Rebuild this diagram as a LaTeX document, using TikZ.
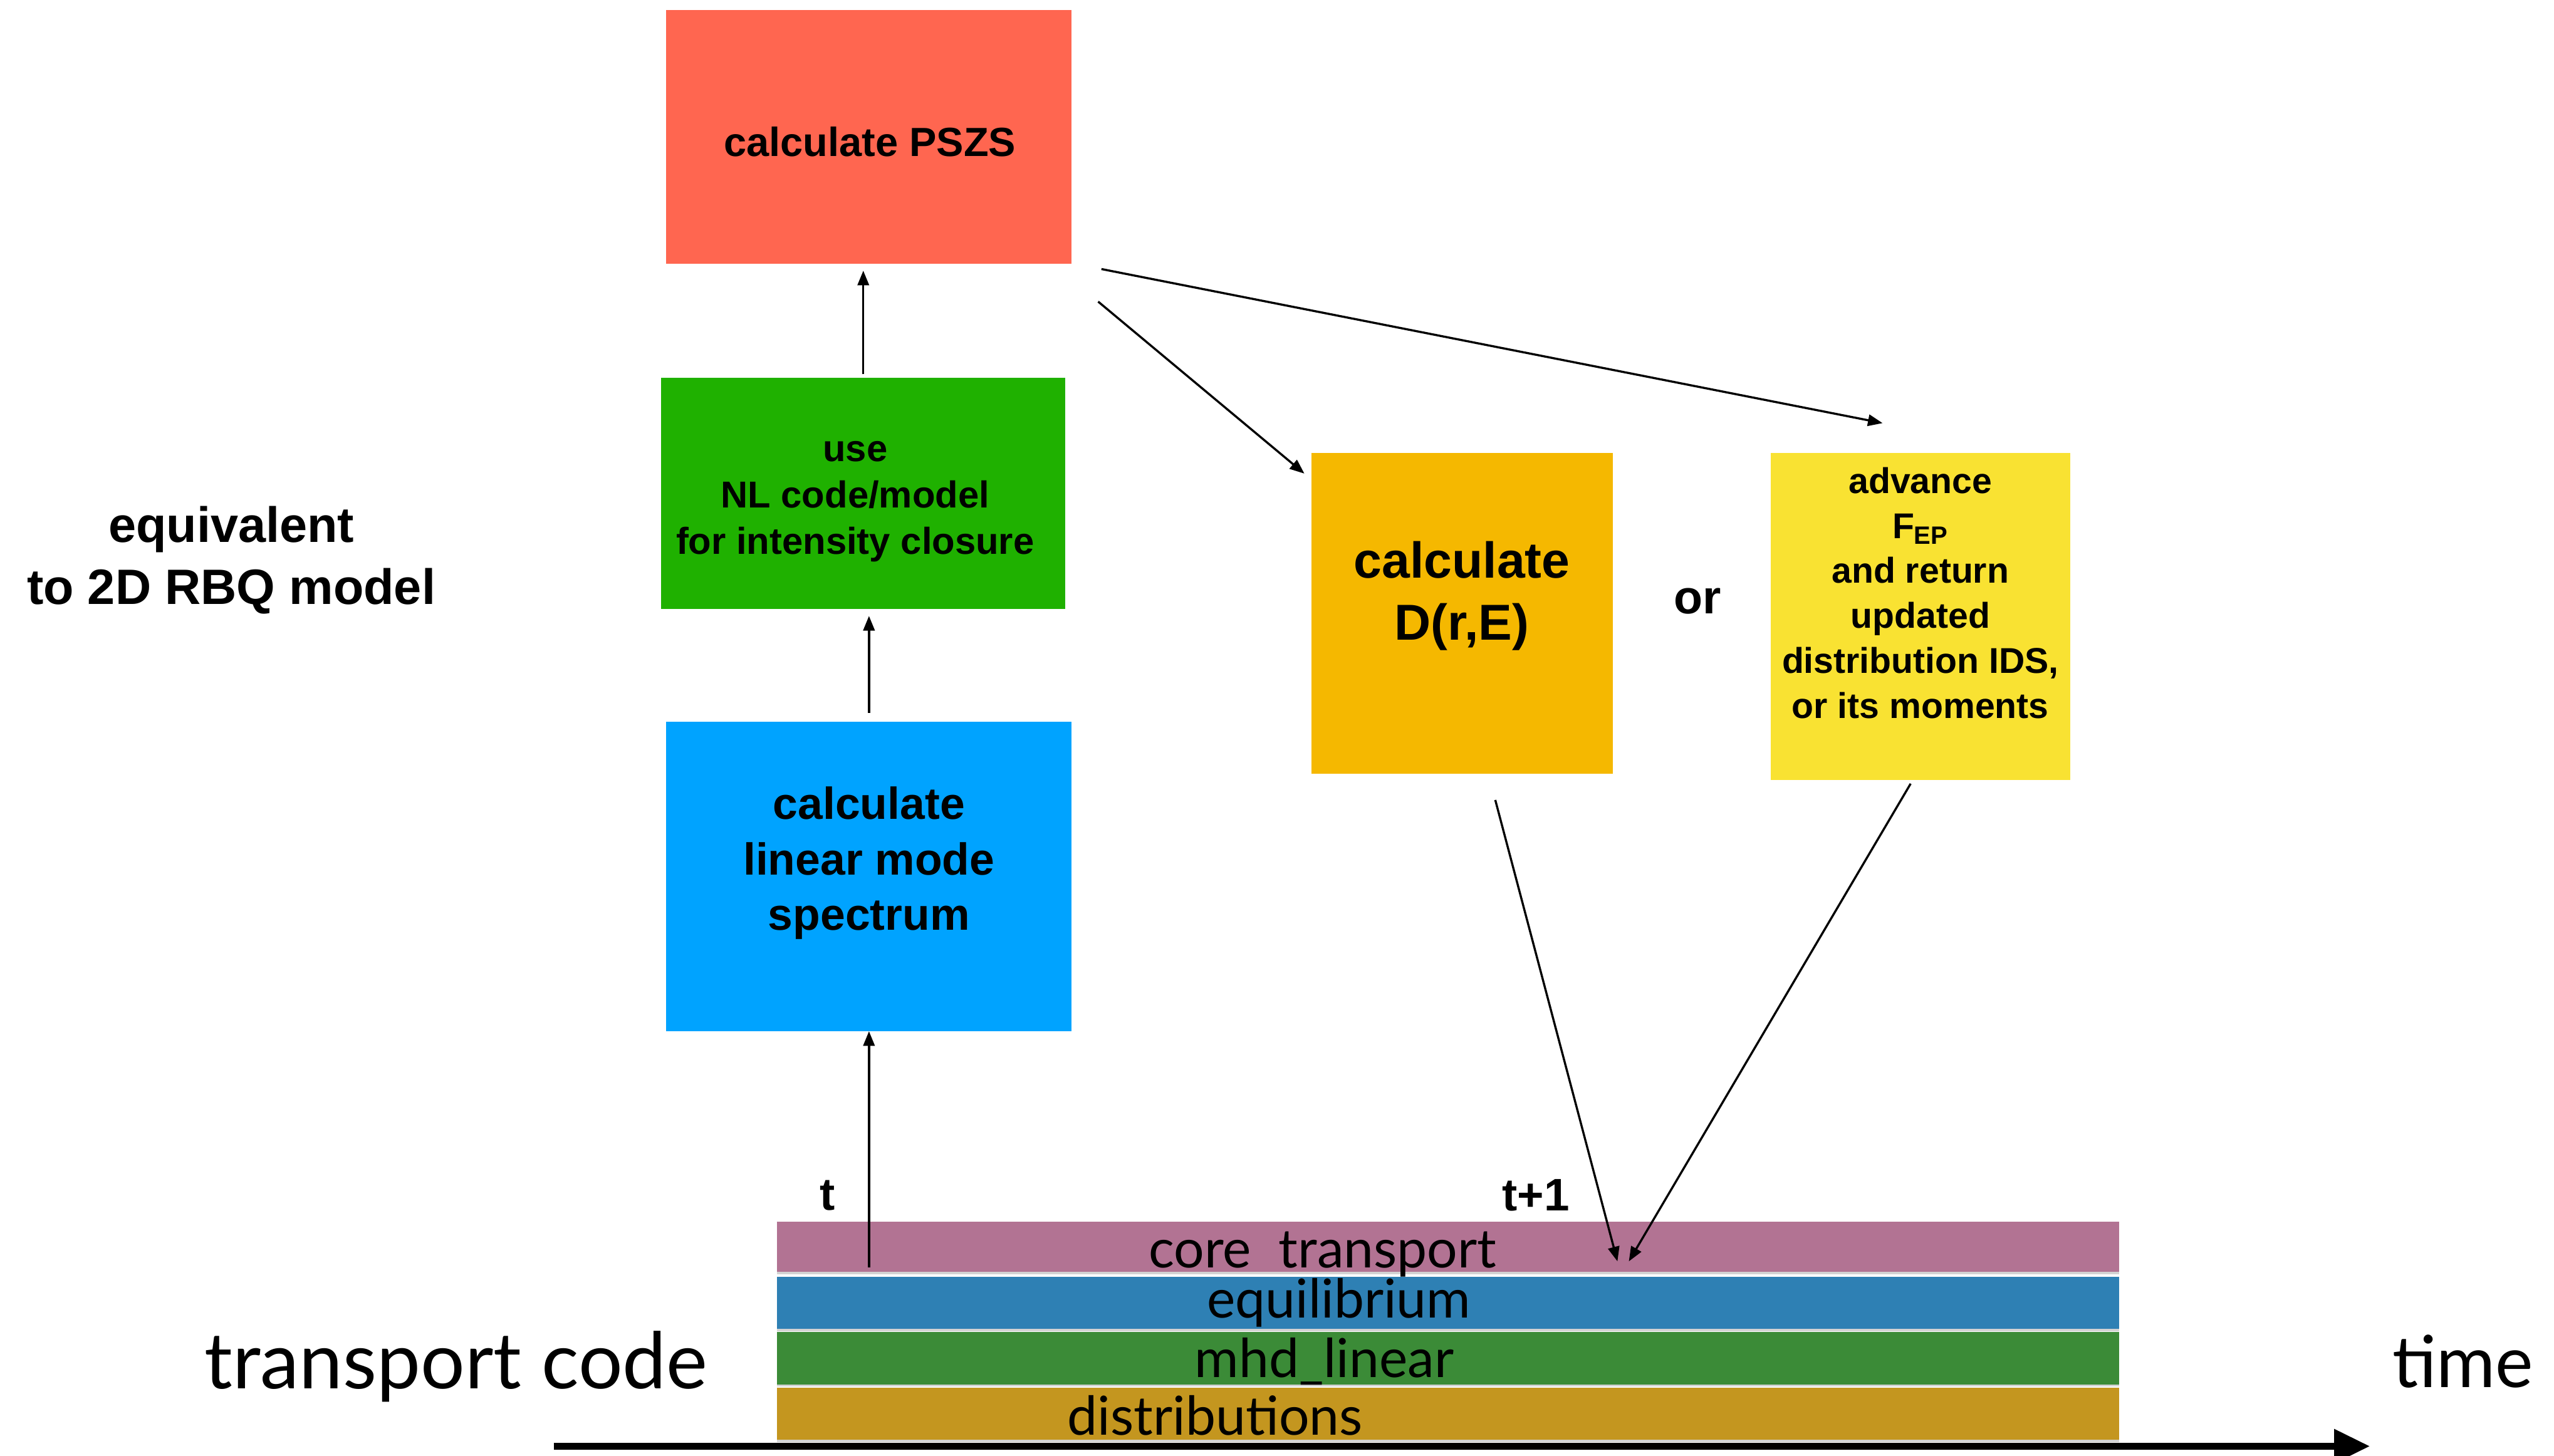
\documentclass[tikz,border=0pt]{standalone}
\usepackage{fontspec}
\setmainfont{Liberation Sans}
\newfontfamily\stripfont{Lato}
\usetikzlibrary{arrows.meta,shadows}

\definecolor{pszred}{HTML}{FF6650}
\definecolor{nlgreen}{HTML}{1FB100}
\definecolor{linblue}{HTML}{00A3FF}
\definecolor{dreorange}{HTML}{F5B800}
\definecolor{fepyellow}{HTML}{F9E232}
\definecolor{corepink}{HTML}{B27393}
\definecolor{equblue}{HTML}{2E80B4}
\definecolor{mhdgreen}{HTML}{3B8B37}
\definecolor{distgold}{HTML}{C4961F}

\begin{document}
\begin{tikzpicture}[x=1pt,y=1pt,
    box/.style={inner sep=0pt, align=center},
    arr/.style={-{Triangle[length=9pt,width=7pt]}, line width=1.3pt},
    strip/.style={minimum width=824pt, minimum height=32pt, inner sep=0pt,
        drop shadow={shadow xshift=0pt, shadow yshift=-1.5pt, opacity=0.35}},
    striptext/.style={font=\stripfont\fontsize{33}{33}\selectfont}]
    \useasboundingbox (0,0) rectangle (1568,-894);

    % boxes
    \node[box, fill=pszred, minimum width=249pt, minimum height=156pt] (psz) at (533.5,-84) {};
    \node[box, font=\bfseries\fontsize{25}{30}\selectfont] (psztxt) at (534,-87) {calculate PSZS};
    \node[box, fill=nlgreen, minimum width=248pt, minimum height=142pt] (nl) at (530,-303) {};
    \node[box, font=\bfseries\fontsize{23}{28.5}\selectfont] (nltxt) at (525,-308)
        {use\\NL code/model\\for intensity closure};
    \node[box, fill=linblue, minimum width=249pt, minimum height=190pt] (lin) at (533.5,-538) {};
    \node[box, font=\bfseries\fontsize{27.5}{34}\selectfont] (lintxt) at (533.5,-530)
        {calculate\\linear mode\\spectrum};
    \node[box, fill=dreorange, minimum width=185pt, minimum height=197pt] (dre) at (897.5,-376.5) {};
    \node[box, font=\bfseries\fontsize{31}{38}\selectfont] (dretxt) at (897.5,-366)
        {calculate\\D(r,E)};
    \node[box, fill=fepyellow, minimum width=184pt, minimum height=201pt] (fep) at (1179,-378.5) {};
    \node[box, font=\bfseries\fontsize{22}{27.6}\selectfont] (feptxt) at (1179,-364)
        {advance\\F\textsubscript{EP}\\and return\\updated\\distribution IDS,\\or its moments};

    \node[font=\bfseries\fontsize{29}{29}\selectfont] (or) at (1042,-369) {or};
    \node[box, font=\bfseries\fontsize{30.5}{38}\selectfont] (eqv) at (142,-344)
        {equivalent\\to 2D RBQ model};
    \node[font=\bfseries\fontsize{28}{28}\selectfont] (tlab) at (508,-734) {t};
    \node[font=\bfseries\fontsize{28}{28}\selectfont] (tonelab) at (943,-734) {t+1};

    % IDS strips
    \node[strip, fill=corepink, minimum height=31pt] (core) at (889,-765.5) {};
    \node[strip, fill=equblue] (equ) at (889,-800) {};
    \node[strip, fill=mhdgreen] (mhd) at (889,-834) {};
    \node[strip, fill=distgold] (dist) at (889,-868) {};
    \node[striptext] (coretxt) at (812,-770) {core\ \ transport};
    \node[striptext] (equtxt) at (822,-800) {equilibrium};
    \node[striptext] (mhdtxt) at (813,-836) {mhd\_linear};
    \node[striptext] (disttxt) at (746,-869) {distributions};

    \node[font=\stripfont\fontsize{48}{48}\selectfont] (tcode) at (280,-839) {transport code};
    \node[font=\stripfont\fontsize{44}{44}\selectfont] (timelab) at (1512,-836) {time};

    % connectors
    \draw[arr, shorten <=3pt] (lin.south |- core.south) -- (lin.south);
    \draw[arr, shorten <=5pt, shorten >=4pt] (lin.north) -- (lin.north |- nl.south);
    \draw[arr, shorten <=2pt, shorten >=4pt] (nl.north) -- (nl.north |- psz.south);
    \draw[arr] ([shift={(16,-23)}]psz.south east) -- ([shift={(-4,-13)}]dre.north west);
    \draw[arr] ([shift={(18,-3)}]psz.south east) -- ([shift={(69,18)}]fep.north west);
    \draw[arr] ([shift={(20.5,-16)}]dre.south) -- ([shift={(104,-9)}]core.center);
    \draw[arr] ([shift={(-6,-2)}]fep.south) -- ([shift={(111,-9)}]core.center);

    % time axis
    \coordinate (axl) at (340,-888);
    \coordinate (axr) at (1455,-888);
    \draw[line width=4.5pt, -{Triangle[length=22pt,width=20pt]}] (axl) -- (axr);
\end{tikzpicture}
\end{document}
